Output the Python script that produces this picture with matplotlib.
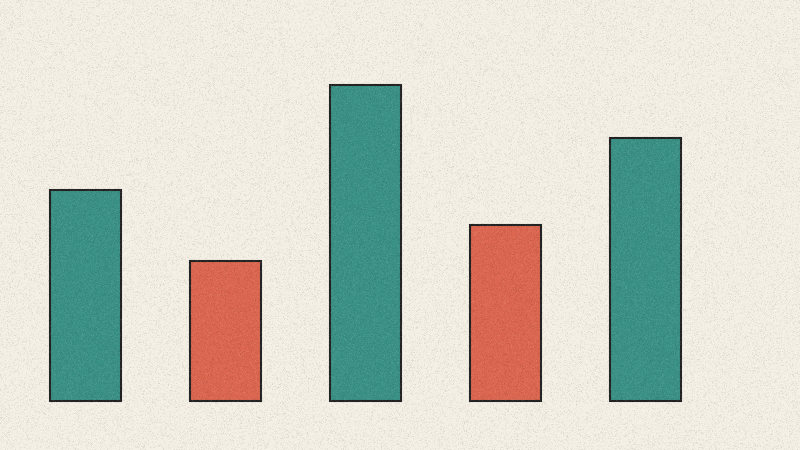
import numpy as np
import matplotlib
matplotlib.use('Agg')
import matplotlib.pyplot as plt

# 데이터
categories = ['A', 'B', 'C', 'D', 'E']
values = [60, 40, 90, 50, 75]
bar_colors = ['#3a9186', '#dc6650', '#3a9186', '#dc6650', '#3a9186']

fig = plt.figure(figsize=(8, 4.5), dpi=100)
fig.patch.set_facecolor('#f5f0e5')
ax = fig.add_axes([0, 0, 1, 1])
ax.set_facecolor('#f5f0e5')

x = np.arange(len(categories))
ax.bar(x, values, width=0.507, color=bar_colors, edgecolor='#222222', linewidth=1.5, zorder=2)

# 픽셀 위치 맞추기
ax.set_xlim(-0.6107, 5.1036)
ax.set_ylim(-13.96, 114.2)
ax.axis('off')

# 종이 질감 (grain)
rng = np.random.default_rng(7)
grain = rng.normal(0, 1, (450, 800))
grain_rgba = np.zeros((450, 800, 4))
grain_rgba[..., :3] = (grain[..., None] > 0).astype(float)
grain_rgba[..., 3] = np.clip(np.abs(grain) * 0.04, 0, 0.1)
fig.figimage(grain_rgba, 0, 0, zorder=10)

fig.savefig('out.png', dpi=100, facecolor=fig.get_facecolor())
